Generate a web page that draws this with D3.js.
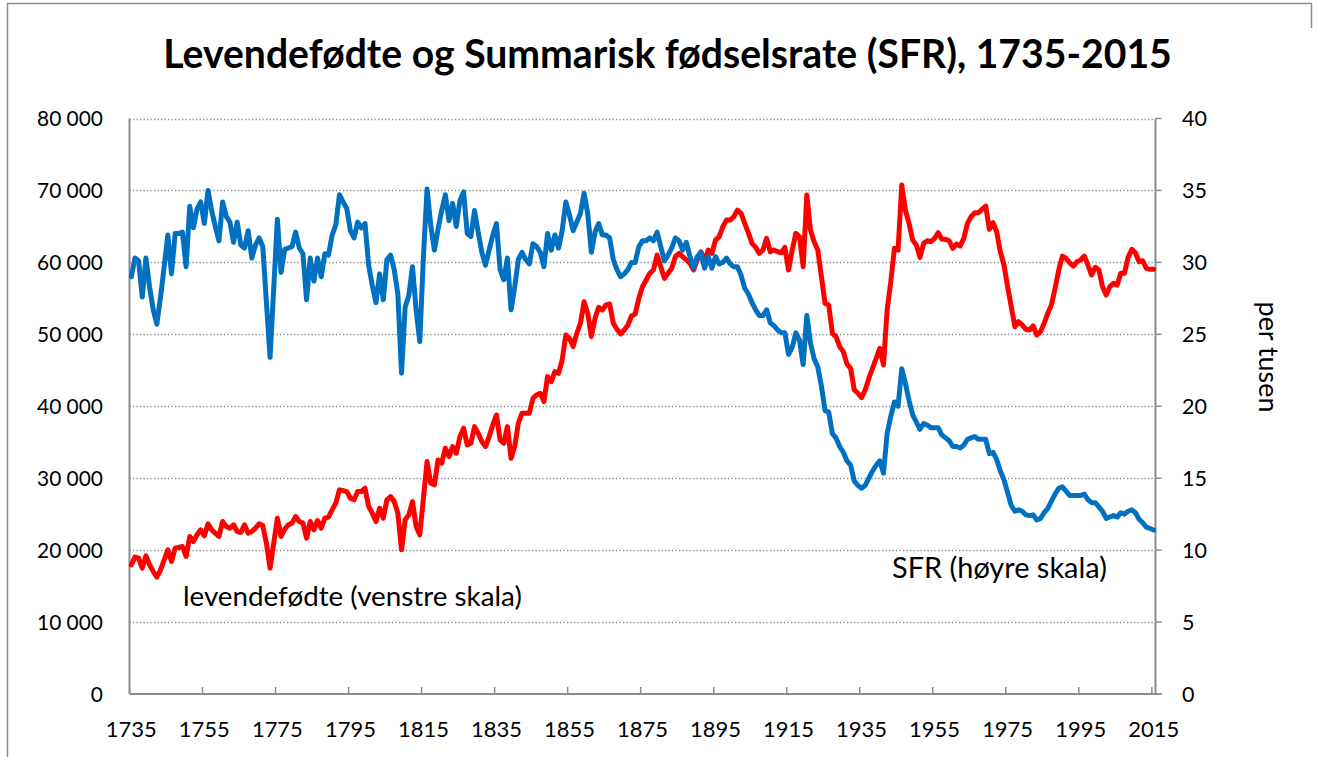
<!DOCTYPE html>
<html><head><meta charset="utf-8">
<script src="https://cdn.jsdelivr.net/npm/d3@7"></script>
<style>
body{margin:0;background:#fff;overflow:hidden}
text{font-family:Lato,'Open Sans',sans-serif;fill:#000}
</style>
</head><body>
<svg id="c" width="1318" height="757"></svg>
<script>
const titleText = "Levendefødte og Summarisk fødselsrate (SFR), 1735-2015";
const years = d3.range(1735, 2016);
const births = [
17960,19030,18890,17500,19210,17960,17030,16250,17270,18650,
20040,18420,20280,20370,20500,19120,21900,21200,22130,22820,
21990,23650,22820,22360,21900,23980,23280,23050,23520,22590,
22450,23520,22360,22590,23050,23650,23420,20970,17500,20970,
24430,21900,22900,23520,23750,24670,23980,23750,21670,23980,
22820,24120,23050,24440,24590,25600,26530,28380,28280,28140,
27220,26990,28140,28140,28610,26060,25140,23980,25830,24440,
26990,27450,26750,25140,20040,24210,24900,26750,23280,22130,
27220,32310,29310,29080,32540,32080,34170,33010,34400,33470,
35790,36950,34630,34860,37170,36250,35090,34400,35790,37410,
38790,35320,34860,37170,32780,34400,37640,39030,39030,39030,
41110,41570,41810,40650,44120,43420,44810,44580,46430,49910,
49450,48290,50140,51530,54530,52920,49680,52230,53760,53380,
54080,54220,51530,50700,50050,50600,51300,52550,52820,55000,
56620,57550,58480,58940,61020,59400,57780,58480,59170,60790,
61250,60790,60330,59870,58940,60330,61480,60090,61710,61250,
63100,63570,64950,65880,65880,66340,67270,66810,65420,64100,
62640,62090,61250,61710,63340,61480,61710,61480,61340,62090,
58940,61710,64030,63570,59400,69350,64490,62870,61710,58010,
54310,54080,50140,49680,48290,47590,45880,45280,42270,41810,
41200,42270,43890,45280,46670,48060,45740,53380,57310,61950,
61710,70740,67270,65420,63100,62410,60700,62640,63010,62870,
63340,64120,63200,63200,63010,61950,62550,62270,63340,65420,
66340,66900,66900,67370,67830,64590,65510,64260,61480,59630,
56620,53840,51060,51750,51300,50700,50600,51160,49910,50370,
51530,52920,54080,56400,58940,60880,60560,59950,59490,60090,
60330,60880,59630,58240,59310,58940,56620,55460,56620,57090,
56850,58480,58480,60700,61810,61340,60090,60230,59170,59030,
59030];
const sfr = [
29.0,30.3,30.1,27.6,30.3,28.3,26.7,25.7,27.6,29.7,
31.9,29.2,32.0,32.0,32.1,29.7,33.9,32.4,33.7,34.2,
32.7,35.0,33.6,32.5,31.5,34.2,33.2,32.8,31.4,32.8,
31.2,31.0,32.2,30.3,31.2,31.7,31.1,27.2,23.4,28.2,
33.0,29.3,30.9,31.0,31.1,32.1,31.0,30.6,27.4,30.3,
28.7,30.3,29.0,30.6,30.5,31.9,32.6,34.7,34.2,33.75,
32.2,31.7,32.8,32.4,32.7,29.8,28.4,27.2,29.2,27.4,
30.2,30.5,29.5,27.8,22.3,26.9,27.7,29.7,26.7,24.5,
30.4,35.1,32.6,30.85,32.3,33.6,34.7,32.9,34.1,32.5,
34.3,34.9,32.0,31.8,33.6,32.1,30.7,29.8,30.85,31.9,
32.7,29.5,28.8,30.3,26.7,28.3,30.2,30.7,30.2,29.9,
31.3,31.1,30.7,29.7,32.0,30.85,31.9,31.0,32.2,34.2,
33.3,32.2,32.8,33.4,34.8,33.4,30.7,32.1,32.7,31.9,
31.9,31.7,30.2,29.5,29.0,29.2,29.5,30.0,30.0,31.1,
31.5,31.5,31.7,31.5,32.1,31.1,30.1,30.5,31.0,31.7,
31.5,30.85,31.4,30.4,29.6,30.4,30.7,29.6,30.4,29.6,
30.4,29.9,30.0,30.3,29.9,29.7,29.7,29.1,28.2,27.8,
27.2,26.7,26.3,26.3,26.7,25.8,25.6,25.3,25.1,25.1,
23.6,24.1,25.1,24.6,22.9,26.3,24.4,23.3,22.75,21.4,
19.7,19.6,18.1,17.8,17.2,16.8,16.2,15.9,14.8,14.5,
14.3,14.5,15.0,15.5,15.9,16.2,15.35,18.1,19.3,20.3,
20.0,22.6,21.6,20.4,19.4,18.9,18.4,18.8,18.7,18.5,
18.5,18.5,18.0,17.8,17.6,17.2,17.2,17.1,17.3,17.7,
17.8,17.9,17.7,17.7,17.7,16.7,16.8,16.3,15.5,14.9,
14.0,13.1,12.7,12.8,12.7,12.45,12.4,12.45,12.1,12.2,
12.6,12.9,13.4,13.9,14.3,14.4,14.1,13.8,13.8,13.8,
13.8,13.9,13.5,13.3,13.3,13.0,12.7,12.2,12.3,12.4,
12.3,12.6,12.5,12.7,12.8,12.6,12.15,11.9,11.6,11.5,
11.4];
const leftTicks = [0,10000,20000,30000,40000,50000,60000,70000,80000];
const rightTicks = [0,5,10,15,20,25,30,35,40];
const xLabelYears = [1735,1755,1775,1795,1815,1835,1855,1875,1895,1915,1935,1955,1975,1995,2015];
const birthsLabel = "levendefødte (venstre skala)";
const sfrLabel = "SFR (høyre skala)";
const rightAxisTitle = "per tusen";

const svg = d3.select("#c");
const L = 129.5, R = 1155.5, T = 118.5, B = 694;
const x = d3.scaleBand().domain(years).range([L, R]).padding(0);
const yL = d3.scaleLinear().domain([0, 80000]).range([B, T]);
const yR = d3.scaleLinear().domain([0, 40]).range([B, T]);
const cx = d => x(d) + x.bandwidth() / 2;
const fmt = d3.formatLocale({decimal: ",", thousands: " ", grouping: [3], currency: ["", ""]}).format(",d");

function fitGroup(sel, refNode, target) {
  const w = refNode.getComputedTextLength();
  const fs = parseFloat(d3.select(refNode).attr("font-size"));
  sel.attr("font-size", fs * target / w);
}

// frame
svg.append("path").attr("d", "M7.5,757 V3.5 H1311.5 V28").attr("fill", "none").attr("stroke", "#8c8c8c").attr("stroke-width", 1.5);

// gridlines
svg.append("g").selectAll("line").data(leftTicks.filter(d => d > 0)).join("line")
  .attr("x1", L).attr("x2", R).attr("y1", d => Math.round(yL(d)) + 0.5).attr("y2", d => Math.round(yL(d)) + 0.5)
  .attr("stroke", "#8a8a8a").attr("stroke-width", 1.3).attr("stroke-dasharray", "1.3,2.2");

// axes lines
const axisColor = "#8c8c8c";
svg.append("line").attr("x1", L).attr("x2", L).attr("y1", T).attr("y2", B).attr("stroke", axisColor).attr("stroke-width", 2);
svg.append("line").attr("x1", R).attr("x2", R).attr("y1", T).attr("y2", B).attr("stroke", axisColor).attr("stroke-width", 2);
svg.append("line").attr("x1", L).attr("x2", R + 6).attr("y1", B).attr("y2", B).attr("stroke", axisColor).attr("stroke-width", 2);
// right axis ticks (outside)
svg.append("g").selectAll("line").data(rightTicks).join("line")
  .attr("x1", R).attr("x2", R + 6).attr("y1", d => yR(d)).attr("y2", d => yR(d))
  .attr("stroke", axisColor).attr("stroke-width", 1.5);
// x ticks (inside, at category boundaries)
svg.append("g").selectAll("line").data(xLabelYears.filter(d => d > 1735)).join("line")
  .attr("x1", d => x(d)).attr("x2", d => x(d)).attr("y1", B).attr("y2", B - 7)
  .attr("stroke", axisColor).attr("stroke-width", 1.5);

// left tick labels
const lt = svg.append("g").selectAll("text").data(leftTicks).join("text")
  .attr("x", 103).attr("y", d => yL(d)).attr("dy", "0.36em").attr("text-anchor", "end")
  .attr("font-size", 22).text(d => fmt(d));
fitGroup(lt, lt.nodes()[8], 66);

// right tick labels
const rt = svg.append("g").selectAll("text").data(rightTicks).join("text")
  .attr("x", 1182).attr("y", d => yR(d)).attr("dy", "0.36em").attr("text-anchor", "start")
  .attr("font-size", 22).text(d => d);
fitGroup(rt, rt.nodes()[8], 25);

// x labels
const xt = svg.append("g").selectAll("text").data(xLabelYears).join("text")
  .attr("x", d => cx(d)).attr("y", 737).attr("text-anchor", "middle")
  .attr("font-size", 22).text(d => d);
fitGroup(xt, xt.nodes()[0], 51);

// right axis title
const rat = svg.append("text").attr("transform", "translate(1269,357) rotate(90)")
  .attr("text-anchor", "middle").attr("dy", "0.36em").attr("font-size", 22).text(rightAxisTitle);
fitGroup(rat, rat.node(), 111);

// lines
const lineB = d3.line().x((d, i) => cx(years[i])).y(d => yL(d));
const lineS = d3.line().x((d, i) => cx(years[i])).y(d => yR(d));
svg.append("path").datum(births).attr("d", lineB).attr("fill", "none").attr("stroke", "#ff0000")
  .attr("stroke-width", 5).attr("stroke-linejoin", "round").attr("stroke-linecap", "round");
svg.append("path").datum(sfr).attr("d", lineS).attr("fill", "none").attr("stroke", "#0070c0")
  .attr("stroke-width", 5).attr("stroke-linejoin", "round").attr("stroke-linecap", "round");

// annotations
const a1 = svg.append("text").attr("x", 183).attr("y", 606).attr("font-size", 22).text(birthsLabel);
fitGroup(a1, a1.node(), 339);
const a2 = svg.append("text").attr("x", 892).attr("y", 578).attr("font-size", 22).text(sfrLabel);
fitGroup(a2, a2.node(), 215);

// title
const tt = svg.append("text").attr("x", 667.5).attr("y", 68).attr("text-anchor", "middle")
  .attr("font-weight", "bold").attr("font-size", 34).text(titleText);
fitGroup(tt, tt.node(), 1009);
</script>
</body></html>
